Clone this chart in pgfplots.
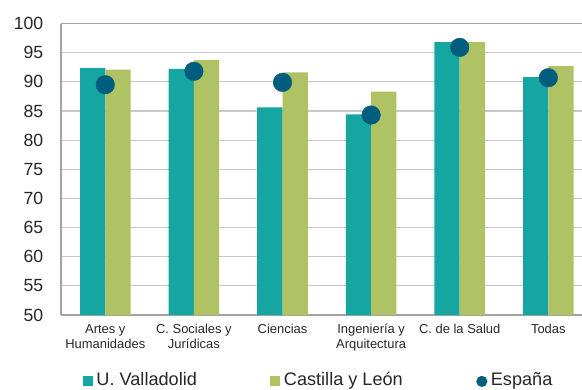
\documentclass[border=0pt]{standalone}
\usepackage{fontspec}
\setmainfont{Liberation Sans}
\usepackage{pgfplots}
\pgfplotsset{compat=1.18}

\definecolor{uva}{RGB}{22,166,161}
\definecolor{cyl}{RGB}{175,194,100}
\definecolor{esp}{RGB}{0,93,126}
\definecolor{gridc}{RGB}{200,200,200}
\definecolor{framec}{RGB}{163,163,163}

% Tasa de rendimiento por rama de conocimiento (%)
\pgfplotstableread{
x uva  cyl  esp
0 92.4 92.1 89.5
1 92.2 93.7 91.8
2 85.6 91.6 89.9
3 84.4 88.3 84.3
4 96.8 96.8 95.9
5 90.8 92.7 90.7
}\datos

\begin{document}
\begin{tikzpicture}
\begin{axis}[
  at={(0,0)}, anchor=south west,
  scale only axis, width=521bp, height=291.5bp,
  xmin=-0.5, xmax=5.38, ymin=50, ymax=100,
  axis x line=box, axis y line=left,
  axis line style={framec, line width=1.8bp},
  separate axis lines,
  every outer x axis line/.append style={-}, every outer y axis line/.append style={-},
  ytick={50,55,...,100},
  xtick={0,...,5},
  xticklabels={{Artes y\\Humanidades},{C. Sociales y\\Jurídicas},{Ciencias},{Ingeniería y\\Arquitectura},{C. de la Salud},{Todas}},
  major tick length=0pt,
  ymajorgrids, grid style={gridc, line width=1.1bp},
  /pgf/number format/assume math mode=true,
  yticklabel style={font=\fontsize{17.7}{20}\selectfont, inner sep=0pt, xshift=-17.5bp, text=black!85},
  xticklabel style={font=\fontsize{13}{15}\selectfont, align=center, anchor=north, inner sep=0pt, yshift=-9bp, text=black!85},
  legend columns=3,
  legend style={at={(0.0418,-0.221)}, anchor=west, draw=none, fill=none,
    font=\fontsize{18.2}{20}\selectfont, text=black!85, inner sep=0pt,
    nodes={inner sep=0pt, anchor=base west},
    /tikz/every odd column/.append style={column sep=3.5bp},
    /tikz/every even column/.append style={column sep=73.5bp}},
]
\addplot[ybar, bar width=25.3bp, bar shift=-12.65bp, fill=uva, draw=none,
  legend image code/.code={\fill[uva] (0bp,-0.3bp) rectangle (10bp,9.7bp);}]
  table[x=x, y=uva] {\datos};
\addlegendentry{U. Valladolid}
\addplot[ybar, bar width=25.3bp, bar shift=12.65bp, fill=cyl, draw=none,
  legend image code/.code={\fill[cyl] (0bp,-0.3bp) rectangle (10bp,9.7bp);}]
  table[x=x, y=cyl] {\datos};
\addlegendentry{Castilla y León}
\addplot[only marks, mark=*, color=esp, mark size=9.3bp,
  mark options={fill=esp, draw=esp},
  legend image code/.code={\fill[esp] (5.3bp,3.9bp) circle (5.3bp);}]
  table[x=x, y=esp] {\datos};
\addlegendentry{España}
\end{axis}
\pgfresetboundingbox
\useasboundingbox (-61bp,-75bp) rectangle (521bp,315bp);
\end{tikzpicture}
\end{document}
